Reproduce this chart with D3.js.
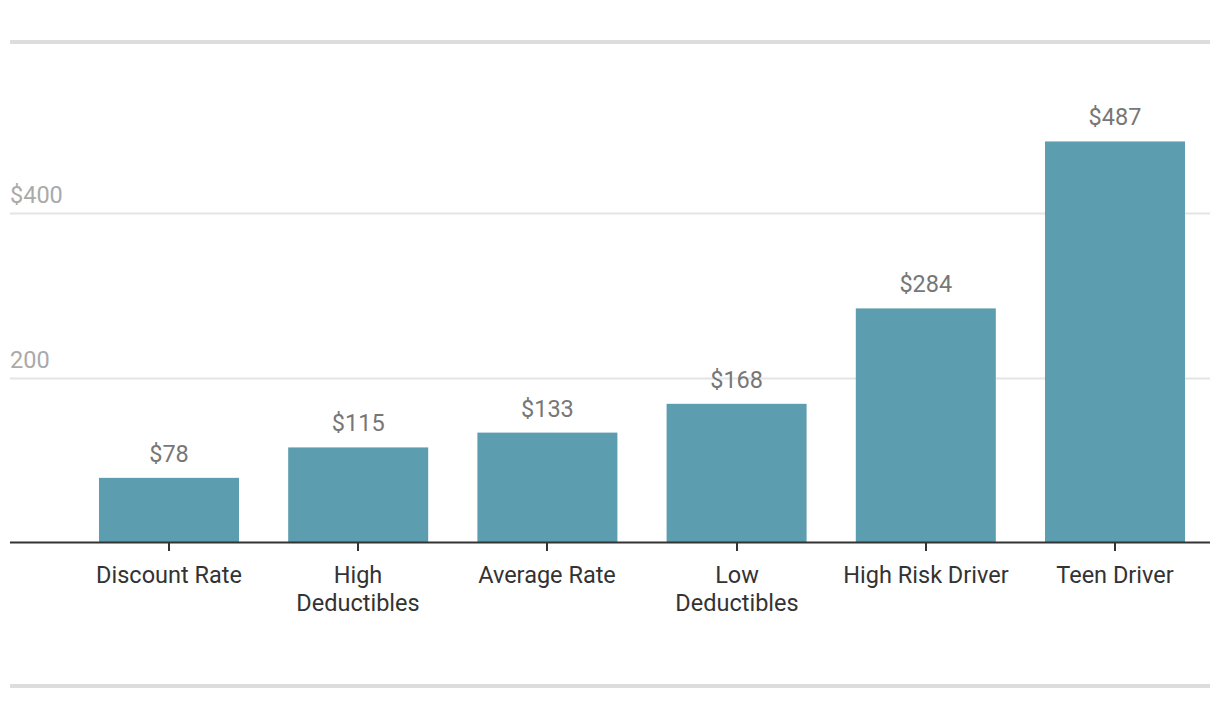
<!DOCTYPE html>
<html>
<head>
<meta charset="utf-8">
<script src="https://cdn.jsdelivr.net/npm/d3@7"></script>
<style>
  html, body { margin: 0; padding: 0; background: #fff; }
  svg { display: block; font-family: Roboto, sans-serif; }
</style>
</head>
<body>
<svg id="chart" width="1220" height="718"></svg>
<script>
const categories = ["Discount Rate", "High Deductibles", "Average Rate", "Low Deductibles", "High Risk Driver", "Teen Driver"];
const categoryLines = [["Discount Rate"], ["High", "Deductibles"], ["Average Rate"], ["Low", "Deductibles"], ["High Risk Driver"], ["Teen Driver"]];
const values = [78, 115, 133, 168, 284, 487];
const yTicks = [200, 400];
const yTickLabels = ["200", "$400"];

const svg = d3.select("#chart");
const left = 10, right = 1210;
const y0 = 542;
const FS = 23.5;

const x = d3.scaleBand()
  .domain(categories)
  .range([74.4, 1209.6])
  .paddingInner(0.26)
  .paddingOuter(0.13);

const y = d3.scaleLinear().domain([0, 400]).range([y0, 213]);

// top & bottom rules
svg.append("rect").attr("x", left).attr("y", 40).attr("width", right - left).attr("height", 4).attr("fill", "#dddddd");
svg.append("rect").attr("x", left).attr("y", 684).attr("width", right - left).attr("height", 4).attr("fill", "#dddddd");

// gridlines
const grid = svg.append("g");
grid.selectAll("line").data(yTicks).join("line")
  .attr("x1", left).attr("x2", right)
  .attr("y1", d => Math.round(y(d)) + 0.5).attr("y2", d => Math.round(y(d)) + 0.5)
  .attr("stroke", "#e4e4e4").attr("stroke-width", 2);
grid.selectAll("text").data(yTicks).join("text")
  .attr("x", left).attr("y", d => y(d) - 10)
  .attr("fill", "#aaaaaa").attr("font-size", FS)
  .text((d, i) => yTickLabels[i]);

// bars
svg.append("g").selectAll("rect").data(values).join("rect")
  .attr("x", (d, i) => x(categories[i]))
  .attr("y", d => y(d))
  .attr("width", x.bandwidth())
  .attr("height", d => y0 - y(d))
  .attr("fill", "#5c9daf");

// value labels
svg.append("g").selectAll("text").data(values).join("text")
  .attr("x", (d, i) => x(categories[i]) + x.bandwidth() / 2)
  .attr("y", d => y(d) - 16)
  .attr("text-anchor", "middle")
  .attr("fill", "#777777").attr("font-size", FS)
  .text(d => "$" + d);

// baseline
svg.append("line").attr("x1", left).attr("x2", right).attr("y1", y0 + 0.5).attr("y2", y0 + 0.5)
  .attr("stroke", "#333333").attr("stroke-width", 2);

// ticks and labels
const xg = svg.append("g");
categories.forEach((c, i) => {
  const cx = Math.round(x(c) + x.bandwidth() / 2);
  xg.append("line").attr("x1", cx).attr("x2", cx).attr("y1", y0).attr("y2", y0 + 9)
    .attr("stroke", "#333333").attr("stroke-width", 2);
  const t = xg.append("text").attr("x", cx).attr("y", 583).attr("text-anchor", "middle")
    .attr("fill", "#333333").attr("font-size", FS);
  categoryLines[i].forEach((ln, j) => {
    t.append("tspan").attr("x", cx).attr("dy", j === 0 ? 0 : 28).text(ln);
  });
});
</script>
</body>
</html>
